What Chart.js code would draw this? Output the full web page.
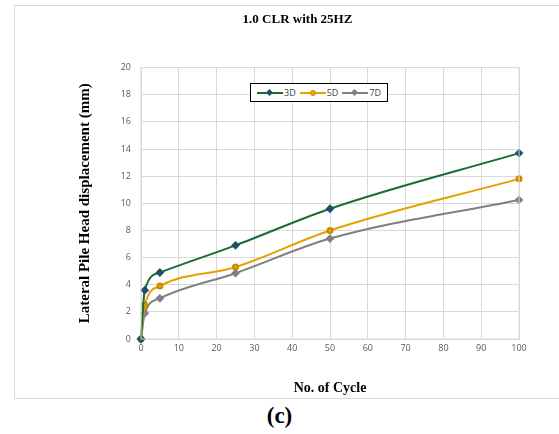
<!DOCTYPE html>
<html>
<head>
<meta charset="utf-8">
<script src="https://cdn.jsdelivr.net/npm/chart.js@4.4.1/dist/chart.umd.min.js"></script>
<style>
  body { margin: 0; background: #fff; width: 559px; height: 434px; position: relative; overflow: hidden; }
  #frame { position: absolute; left: 14px; top: 5px; width: 560px; height: 394px; border: 1px solid #d9d9d9; box-sizing: border-box; }
  #wrap { position: absolute; left: 14px; top: 5px; width: 545px; height: 394px; }
  #legend { position: absolute; left: 250px; top: 83px; height: 19px; border: 1px solid #000; background: #fff;
    display: flex; align-items: center; padding: 0 6px; font: 9px "Open Sans", sans-serif; color: #404040; box-sizing: border-box; }
  .item { display: flex; align-items: center; margin-right: 4px; }
  .item:last-child { margin-right: 0; }
  .sw { position: relative; width: 26px; height: 8px; margin-right: 1px; }
  .sw .ln { position: absolute; left: 0; right: 0; top: 3px; height: 2px; }
  .sw .mk { position: absolute; left: 10px; top: 1px; width: 5px; height: 5px; }
  #label { position: absolute; left: 0; width: 559px; top: 403px; text-align: center; font: bold 23px "Liberation Serif", serif; }
</style>
</head>
<body>
<div id="frame"></div>
<div id="wrap"><canvas id="myChart"></canvas></div>
<div id="legend"></div>
<div id="label">(c)</div>
<script>
const cycles = [0, 1, 5, 25, 50, 100];
const disp3D = [0, 3.6, 4.9, 6.9, 9.6, 13.7];
const disp5D = [0, 2.5, 3.9, 5.3, 8.0, 11.8];
const disp7D = [0, 1.9, 3.0, 4.85, 7.4, 10.25];

const colors = ['#1a6b35', '#e6a000', '#7f7f7f'];
const markers = ['#1f4e6b', '#f0a800', '#808080'];
const names = ['3D', '5D', '7D'];
const styles = ['rectRot', 'circle', 'rectRot'];
const series = [disp3D, disp5D, disp7D];

const ctx = document.getElementById('myChart');
const myChart = new Chart(ctx, {
  type: 'line',
  data: {
    datasets: series.map((s, i) => ({
      label: names[i],
      data: cycles.map((c, j) => ({ x: c, y: s[j] })),
      borderColor: colors[i],
      backgroundColor: markers[i],
      pointBorderColor: i === 1 ? '#c98a00' : markers[i],
      pointStyle: styles[i],
      pointRadius: i === 1 ? 2.5 : 3,
      borderWidth: 2,
      tension: 0.4,
      cubicInterpolationMode: 'monotone',
      clip: false,
    })),
  },
  options: {
    responsive: true,
    maintainAspectRatio: false,
    animation: false,
    layout: { padding: { left: 62, right: 40, top: 0, bottom: 2 } },
    plugins: {
      legend: { display: false },
      tooltip: { enabled: false },
      title: {
        display: true,
        text: '1.0 CLR with 25HZ',
        color: '#000',
        font: { family: 'Liberation Serif', size: 13, weight: 'bold' },
        padding: { top: 7, bottom: 40 },
      },
    },
    scales: {
      x: {
        type: 'linear',
        min: 0,
        max: 100,
        ticks: { stepSize: 10, color: '#595959', font: { family: 'Open Sans', size: 9 }, padding: 4 },
        grid: { color: '#d9d9d9', drawTicks: false },
        border: { color: '#d9d9d9' },
        title: {
          display: true,
          text: 'No. of Cycle',
          color: '#000',
          font: { family: 'Liberation Serif', size: 14, weight: 'bold' },
          padding: { top: 16, bottom: 0 },
        },
        afterFit: (s) => { s.height = 58; },
      },
      y: {
        min: 0,
        max: 20,
        ticks: { stepSize: 2, color: '#595959', font: { family: 'Open Sans', size: 9 }, padding: 10 },
        grid: { color: '#d9d9d9', drawTicks: false },
        border: { color: '#d9d9d9' },
        title: {
          display: true,
          text: 'Lateral Pile Head displacement (mm)',
          color: '#000',
          font: { family: 'Liberation Serif', size: 15, weight: 'bold' },
          padding: { top: 0, bottom: 23 },
        },
        afterFit: (s) => { s.width = 65; },
      },
    },
  },
  plugins: [{
    id: 'frameTopRight',
    afterDraw(chart) {
      const a = chart.chartArea, c = chart.ctx;
      c.save();
      c.strokeStyle = '#d9d9d9';
      c.lineWidth = 1;
      c.strokeRect(a.left, a.top, a.right - a.left, a.bottom - a.top);
      c.restore();
    },
  }],
});

// legend as html, built from the datasets
const leg = document.getElementById('legend');
myChart.data.datasets.forEach((d, i) => {
  const it = document.createElement('div');
  it.className = 'item';
  const round = d.pointStyle === 'circle';
  it.innerHTML = '<div class="sw"><div class="ln" style="background:' + d.borderColor + '"></div>' +
    '<div class="mk" style="background:' + d.backgroundColor + ';' +
    (round ? 'border-radius:50%;border:1px solid ' + d.pointBorderColor + ';width:4px;height:4px;' : 'transform:rotate(45deg);') +
    '"></div></div><span>' + d.label + '</span>';
  leg.appendChild(it);
});
</script>
</body>
</html>
